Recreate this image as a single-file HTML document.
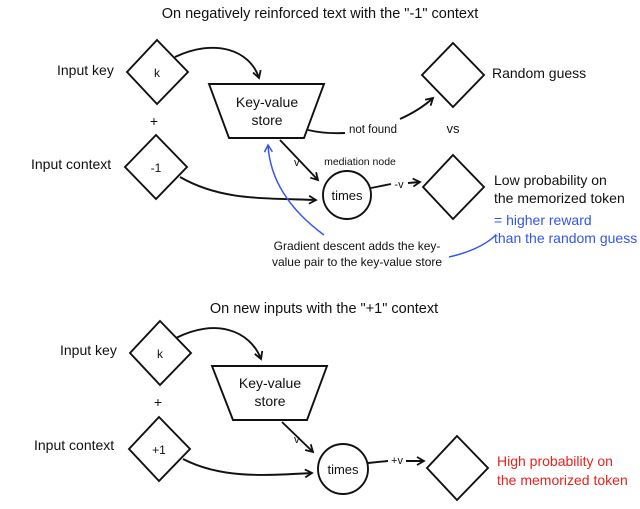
<!DOCTYPE html>
<html><head><meta charset="utf-8"><style>
html,body{margin:0;padding:0;background:#fff;}
svg{display:block;font-family:"Liberation Sans",sans-serif;}
</style></head><body>
<svg width="640" height="509" viewBox="0 0 640 509" xmlns="http://www.w3.org/2000/svg">
<defs>
<marker id="a" markerWidth="10" markerHeight="10" refX="8" refY="5" orient="auto" markerUnits="userSpaceOnUse"><path d="M1,1 L8,5 L1,9" fill="none" stroke="#111" stroke-width="1.8"/></marker>
<marker id="b" markerWidth="10" markerHeight="10" refX="8" refY="5" orient="auto" markerUnits="userSpaceOnUse"><path d="M1,1 L8,5 L1,9" fill="none" stroke="#3355ee" stroke-width="1.5"/></marker>
</defs>
<g fill="none" stroke="#111" stroke-width="1.9">
<polygon points="157,40 188,72 157,104 127,72"/>
<polygon points="156,135 187,167 156,199 125,167"/>
<polygon points="209,84 324,84 304,138 229,138"/>
<polygon points="453,43 484,75 453,107 422,75"/>
<polygon points="453,155 484,187 453,219 423,187"/>
<circle cx="347" cy="195" r="24"/>
<path d="M175,57 C215,38 250,50 259,78" marker-end="url(#a)"/>
<path d="M308,130 Q325,134 345,133"/>
<path d="M400,119 Q420,110 433,98" marker-end="url(#a)"/>
<path d="M280,140 L318,180" marker-end="url(#a)"/>
<path d="M180,177 C220,200 260,198 316,200" marker-end="url(#a)"/>
<path d="M371,188 L391,184"/><path d="M408,183 L420,182" marker-end="url(#a)"/>
<polygon points="160,321 191,353 160,385 130,353"/>
<polygon points="159,417 190,449 159,481 129,449"/>
<polygon points="212,366 327,366 307,420 233,420"/>
<polygon points="457,436 488,468 457,500 427,468"/>
<circle cx="343" cy="469" r="25"/>
<path d="M176,338 C215,318 250,330 261,359" marker-end="url(#a)"/>
<path d="M282,422 L313,452" marker-end="url(#a)"/>
<path d="M183,459 C220,478 260,476 312,473" marker-end="url(#a)"/>
<path d="M368,463 L388,461"/><path d="M406,461 L424,461" marker-end="url(#a)"/>
</g>
<g fill="none" stroke="#3355ee" stroke-width="1.5">
<path d="M324,235 C290,210 270,180 268,145" marker-end="url(#b)"/>
<path d="M449,257 Q480,250 496,235"/>
</g>
<g fill="#111" font-size="14">
<text x="320" y="18" text-anchor="middle" font-size="14.5">On negatively reinforced text with the "-1" context</text>
<text x="57" y="75">Input key</text>
<text x="157" y="77" text-anchor="middle" font-size="12">k</text>
<text x="154" y="126" text-anchor="middle">+</text>
<text x="31" y="169">Input context</text>
<text x="156" y="172" text-anchor="middle" font-size="12">-1</text>
<text x="267" y="107" text-anchor="middle">Key-value</text>
<text x="267" y="125" text-anchor="middle">store</text>
<text x="349" y="133" font-size="11.5">not found</text>
<text x="453" y="133" text-anchor="middle" font-size="13">vs</text>
<text x="492" y="78">Random guess</text>
<text x="360" y="165" text-anchor="middle" font-size="10.5">mediation node</text>
<text x="294" y="166" font-size="11">v</text>
<text x="347" y="200" text-anchor="middle" font-size="13">times</text>
<text x="399" y="188" text-anchor="middle" font-size="11">-v</text>
<text x="494" y="185">Low probability on</text>
<text x="494" y="203">the memorized token</text>
<text x="494" y="225" fill="#3355ee">= higher reward</text>
<text x="494" y="243" fill="#3355ee">than the random guess</text>
<text x="357" y="250" text-anchor="middle" font-size="12">Gradient descent adds the key-</text>
<text x="357" y="266" text-anchor="middle" font-size="12">value pair to the key-value store</text>
<text x="324" y="313" text-anchor="middle" font-size="14.5">On new inputs with the "+1" context</text>
<text x="60" y="355">Input key</text>
<text x="160" y="358" text-anchor="middle" font-size="12">k</text>
<text x="158" y="407" text-anchor="middle">+</text>
<text x="34" y="450">Input context</text>
<text x="159" y="454" text-anchor="middle" font-size="12">+1</text>
<text x="270" y="388" text-anchor="middle">Key-value</text>
<text x="270" y="406" text-anchor="middle">store</text>
<text x="294" y="443" font-size="11">v</text>
<text x="343" y="474" text-anchor="middle" font-size="13">times</text>
<text x="397" y="464" text-anchor="middle" font-size="11">+v</text>
<text x="497" y="466" fill="#e8231e">High probability on</text>
<text x="497" y="485" fill="#e8231e">the memorized token</text>
</g>
</svg>
</body></html>
